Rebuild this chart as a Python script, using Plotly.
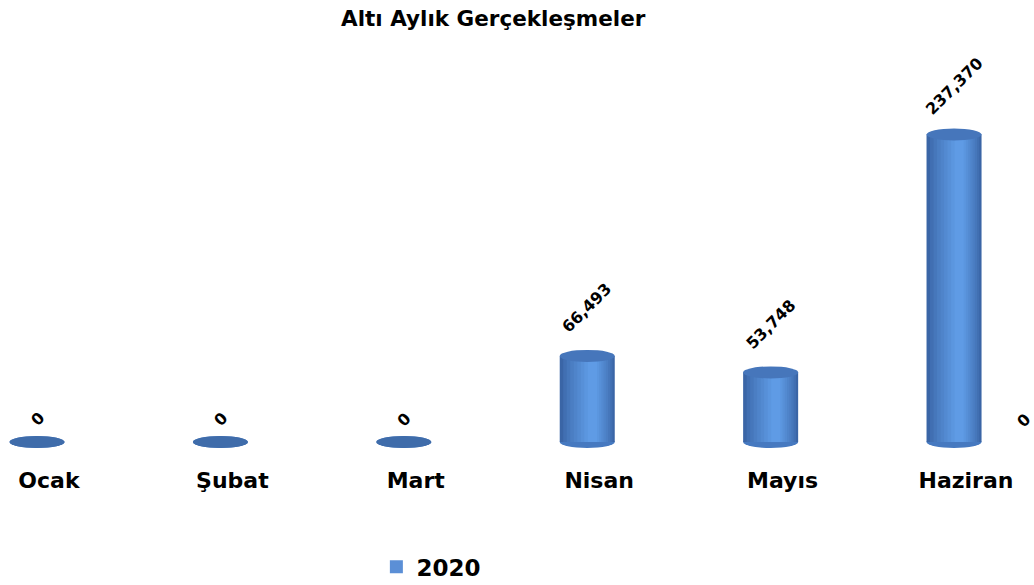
import plotly.graph_objects as go

title = "Altı Aylık Gerçekleşmeler"
months = ["Ocak", "Şubat", "Mart", "Nisan", "Mayıs", "Haziran"]
values_2020 = [0, 0, 0, 66493, 53748, 237370]
series_name = "2020"
extra_label = "0"

xs = list(range(len(months)))
SHIFT = -0.065      # bars sit slightly left of their category label (3D perspective)
BW = 0.30           # cylinder width in category units


def mix(c1, c2, t):
    a = [int(c1[i:i + 2], 16) for i in (1, 3, 5)]
    b = [int(c2[i:i + 2], 16) for i in (1, 3, 5)]
    return "#" + "".join(f"{round(a[j] + (b[j] - a[j]) * t):02x}" for j in range(3))


# nested bars to fake the cylinder shading (outer dark -> inner light)
N = 9
layers = []
for k in range(N):
    t = k / (N - 1)
    w = BW - t * (BW - 0.05)
    dx = 0.028 * t
    layers.append((w, dx, mix("#3A65A6", "#5F9BE5", t ** 0.8)))

fig = go.Figure()
for k, (w, dx, col) in enumerate(layers):
    fig.add_trace(go.Bar(
        x=xs, y=values_2020,
        width=[w] * len(xs),
        offset=[SHIFT + dx - w / 2] * len(xs),
        marker=dict(color=col, line=dict(width=0)),
        name=series_name,
        showlegend=False,
    ))

# legend entry
fig.add_trace(go.Scatter(x=[None], y=[None], mode="markers", name=series_name,
                         marker=dict(color="#5B8FD6", symbol="square", size=13),
                         showlegend=True))

shapes = []
for x, v in zip(xs, values_2020):
    cx = x + SHIFT
    # bottom ellipse of cylinder
    shapes.append(dict(type="circle", xref="x", yref="y", layer="below",
                       x0=cx - BW / 2, x1=cx + BW / 2,
                       ysizemode="pixel", yanchor=0, y0=-6, y1=6,
                       fillcolor="#4679C0", line=dict(width=0)))
    # top ellipse
    shapes.append(dict(type="circle", xref="x", yref="y", layer="above",
                       x0=cx - BW / 2, x1=cx + BW / 2,
                       ysizemode="pixel", yanchor=v, y0=-6, y1=6,
                       fillcolor="#3F6CAA" if v == 0 else "#4676BB",
                       line=dict(width=0)))

annotations = []
for x, v in zip(xs, values_2020):
    txt = f"{v:,}"
    annotations.append(dict(
        x=x + SHIFT, y=v, xref="x", yref="y", text=txt, showarrow=False,
        textangle=-45, xanchor="center", yanchor="middle",
        yshift=min(48, 18 + 5 * len(txt)),
        font=dict(family="DejaVu Sans", size=16, color="black", weight="bold"),
    ))
annotations.append(dict(
    x=0.99, y=0.097, xref="paper", yref="paper", text=extra_label,
    showarrow=False, textangle=-45, xanchor="center", yanchor="middle",
    font=dict(family="DejaVu Sans", size=16, color="black", weight="bold"),
))

fig.update_layout(
    width=1034, height=585,
    margin=dict(l=0, r=0, t=41, b=124, autoexpand=False),
    paper_bgcolor="white", plot_bgcolor="white",
    barmode="overlay",
    title=dict(text=title, x=0.477, xanchor="center", y=0.969, yanchor="middle",
               font=dict(family="DejaVu Sans", size=21.5, color="black", weight="bold")),
    xaxis=dict(range=[-0.267, 5.371], tickvals=xs, ticktext=months,
               showgrid=False, zeroline=False, showline=False, ticks="",
               ticklabelstandoff=4,
               tickfont=dict(family="DejaVu Sans", size=22, color="black", weight="bold")),
    yaxis=dict(range=[-14630, 309540], visible=False, showgrid=False, zeroline=False),
    showlegend=True,
    legend=dict(orientation="h", x=0.364, xanchor="left",
                yref="container", y=0.031, yanchor="middle",
                font=dict(family="DejaVu Sans", size=23, color="black", weight="bold")),
    shapes=shapes,
    annotations=annotations,
)

fig.write_html("out.html",
               config={"displayModeBar": False},
               post_script="document.body.style.margin='0';document.body.style.overflow='hidden';")
